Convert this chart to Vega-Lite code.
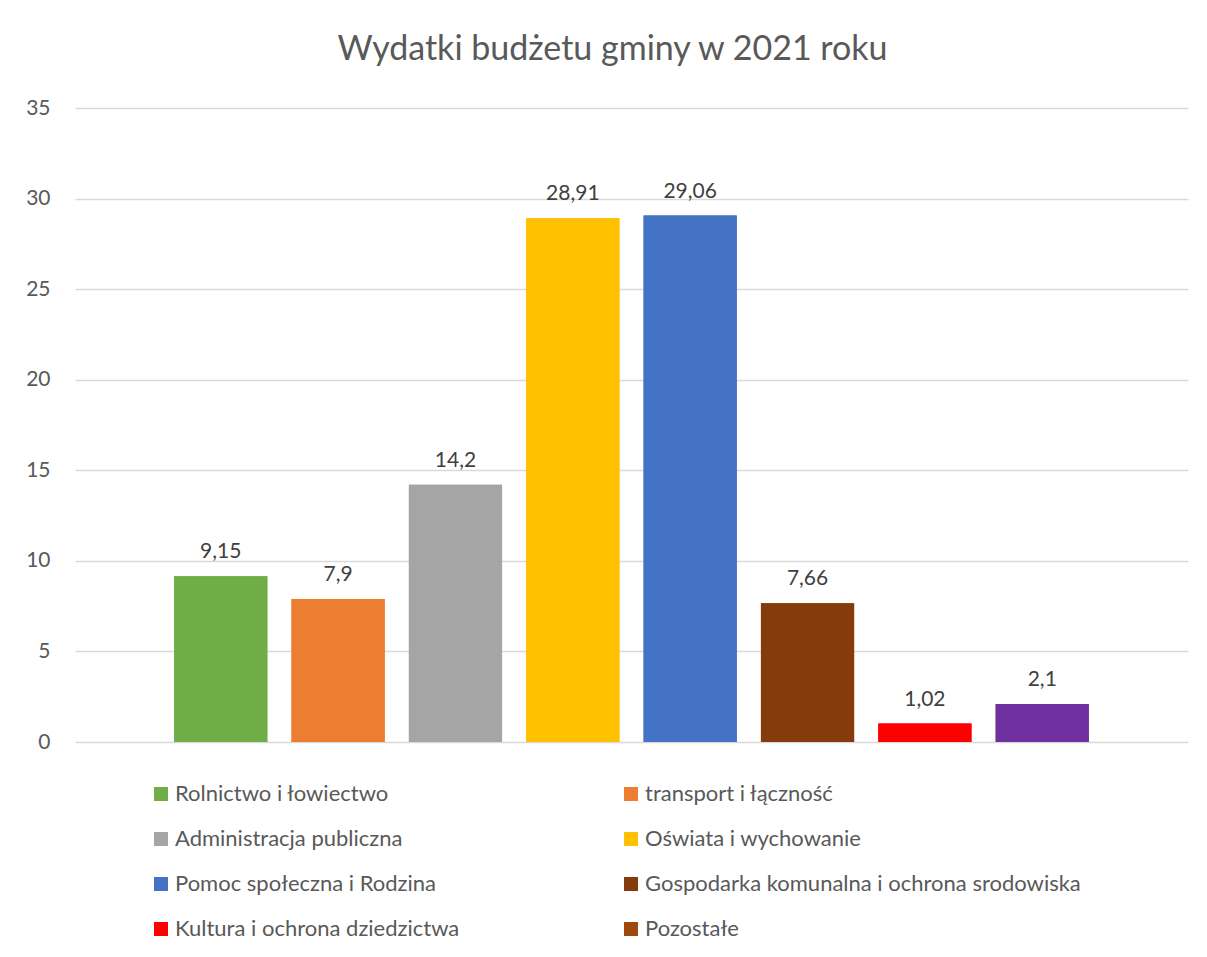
{
  "$schema": "https://vega.github.io/schema/vega-lite/v6.json",
  "width": 1113,
  "height": 634,
  "autosize": {"type": "none"},
  "padding": {"left": 75, "top": 108, "right": 19, "bottom": 215},
  "background": "white",
  "title": {
    "text": "Wydatki budżetu gminy w 2021 roku",
    "font": "Lato",
    "fontSize": 34,
    "fontWeight": "normal",
    "color": "#595959",
    "anchor": "middle",
    "dx": -19,
    "offset": 30
  },
  "config": {
    "locale": {"number": {"decimal": ",", "thousands": " ", "grouping": [3], "currency": ["", " zł"]}},
    "view": {"stroke": null},
    "font": "Lato"
  },
  "data": {
    "values": [
      {"kategoria": "Rolnictwo i łowiectwo", "wartosc": 9.15},
      {"kategoria": "transport i łączność", "wartosc": 7.9},
      {"kategoria": "Administracja publiczna", "wartosc": 14.2},
      {"kategoria": "Oświata i wychowanie", "wartosc": 28.91},
      {"kategoria": "Pomoc społeczna i Rodzina", "wartosc": 29.06},
      {"kategoria": "Gospodarka komunalna i ochrona srodowiska", "wartosc": 7.66},
      {"kategoria": "Kultura i ochrona dziedzictwa", "wartosc": 1.02},
      {"kategoria": "Pozostałe", "wartosc": 2.1}
    ]
  },
  "encoding": {
    "x": {
      "field": "kategoria",
      "type": "nominal",
      "sort": null,
      "axis": null,
      "scale": {"paddingInner": 0.206, "paddingOuter": 0.845}
    },
    "y": {
      "field": "wartosc",
      "type": "quantitative",
      "scale": {"domain": [0, 35]},
      "axis": {
        "title": null,
        "values": [0, 5, 10, 15, 20, 25, 30, 35],
        "domain": false,
        "ticks": false,
        "labelPadding": 25,
        "labelFontSize": 21,
        "labelColor": "#595959",
        "labelFont": "Lato",
        "gridColor": "#D9D9D9",
        "gridWidth": 1.3
      }
    }
  },
  "layer": [
    {
      "mark": {"type": "bar"},
      "encoding": {
        "color": {
          "field": "kategoria",
          "type": "nominal",
          "sort": null,
          "scale": {
            "domain": ["Rolnictwo i łowiectwo", "transport i łączność", "Administracja publiczna", "Oświata i wychowanie", "Pomoc społeczna i Rodzina", "Gospodarka komunalna i ochrona srodowiska", "Kultura i ochrona dziedzictwa", "Pozostałe"],
            "range": ["#70AD47", "#ED7D31", "#A5A5A5", "#FFC000", "#4472C4", "#843C0C", "#FF0000", "#9E480E"]
          },
          "legend": {
            "title": null,
            "orient": "none",
            "direction": "horizontal",
            "legendX": 75,
            "legendY": 675,
            "columns": 2,
            "columnPadding": 160,
            "rowPadding": 23,
            "symbolType": "square",
            "symbolSize": 196,
            "symbolStrokeWidth": 0,
            "labelFontSize": 22,
            "labelFont": "Lato",
            "labelColor": "#595959",
            "labelOffset": 3,
            "labelLimit": 600
          }
        }
      }
    },
    {
      "mark": {"type": "bar"},
      "encoding": {
        "color": {
          "field": "kategoria",
          "type": "nominal",
          "sort": null,
          "scale": {
            "domain": ["Rolnictwo i łowiectwo", "transport i łączność", "Administracja publiczna", "Oświata i wychowanie", "Pomoc społeczna i Rodzina", "Gospodarka komunalna i ochrona srodowiska", "Kultura i ochrona dziedzictwa", "Pozostałe"],
            "range": ["#70AD47", "#ED7D31", "#A5A5A5", "#FFC000", "#4472C4", "#843C0C", "#FF0000", "#7030A0"]
          },
          "legend": null
        }
      }
    },
    {
      "mark": {"type": "text", "baseline": "alphabetic", "dy": -18, "fontSize": 21, "color": "#404040", "font": "Lato"},
      "encoding": {
        "text": {"field": "wartosc", "type": "quantitative", "format": ".2~f"}
      }
    }
  ],
  "resolve": {"scale": {"color": "independent"}, "legend": {"color": "independent"}}
}
